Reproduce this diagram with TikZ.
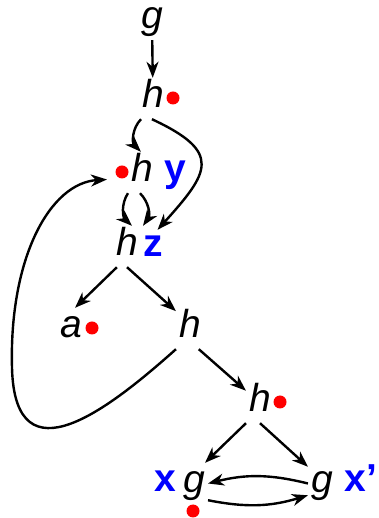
\documentclass[tikz,border=0pt]{standalone}
\usepackage{fontspec}
\setmainfont{Liberation Sans}
\usetikzlibrary{arrows.meta}
\definecolor{tagblue}{RGB}{0,0,255}
\definecolor{dotred}{RGB}{255,0,0}
\tikzset{
  sym/.style={font=\fontsize{39}{45}\selectfont\itshape, text height=27pt, text depth=8pt, inner sep=3pt, anchor=base},
  tag/.style={font=\fontsize{39}{45}\selectfont\bfseries, text=tagblue, inner sep=0pt, anchor=base},
  reddot/.style={circle, fill=dotred, inner sep=0pt, minimum size=13pt},
  arr/.style={-{Stealth[length=16pt,width=12pt,inset=5pt]}, line width=2.4pt},
}

\begin{document}
\begin{tikzpicture}[x=1pt,y=1pt]
  \useasboundingbox (0,0) rectangle (378,518);
  % symbols
  \node[sym,text height=21pt] (gtop) at (152,489) {g};
  \node[sym] (hA)    at (153,410) {h};
  \node[sym] (hB)    at (142,336) {h};
  \node[sym] (hC)    at (127,262) {h};
  \node[sym] (aleaf) at (71,180)  {a};
  \node[sym] (hD)    at (190,180) {h};
  \node[sym] (hE)    at (260,106) {h};
  \node[sym] (gL)    at (194,25)  {g};
  \node[sym] (gR)    at (322,25)  {g};
  % red marks
  \foreach \n/\p in {dA/{173,420}, dB/{122,346}, da/{92,190}, dE/{280,116}, dL/{193,7}}
    \node[reddot] (\n) at (\p) {};
  % blue tags
  \node[tag] (ty)  at (175,336) {y};
  \node[tag] (tz)  at (153,261) {z};
  \node[tag] (tx)  at (165,26)  {x};
  \node[tag] (txp) at (361,26)  {x'};
  % edges
  \draw[arr] (gtop) -- (hA);
  \draw[arr] (hA.240) to[bend right=45] (hB.93);
  \draw[arr] (hA.267) to[out=-25,in=48,looseness=1.8] ([shift={(16.5,-4)}]hC.north east);
  \draw[arr] (hB.south west) to[bend right=40] ([xshift=5pt]hC.north);
  \draw[arr] ([xshift=-2pt]hB.south) to[bend left=40] ([xshift=16pt]hC.north);
  \draw[arr] (hC.244) -- (aleaf.79);
  \draw[arr] (hC.south) -- (hD.129);
  \draw[arr] (hD.293) -- (hE.140);
  % back edge round the left side
  \coordinate (loopL) at (12,150);
  \draw[arr] (hD.south west) .. controls (110,110) and (15,35) .. (loopL)
     .. controls (9,260) and (50,335) .. ([shift={(-21,-7)}]hB.west);
  \draw[arr] (hE.south west) -- (gL.62);
  \draw[arr] (hE.south) -- (gR.130);
  \draw[arr] (gR.west) to[bend right=14] (gL.east);
  \draw[arr] (gL.-50) to[bend right=14] (gR.220);
\end{tikzpicture}
\end{document}
